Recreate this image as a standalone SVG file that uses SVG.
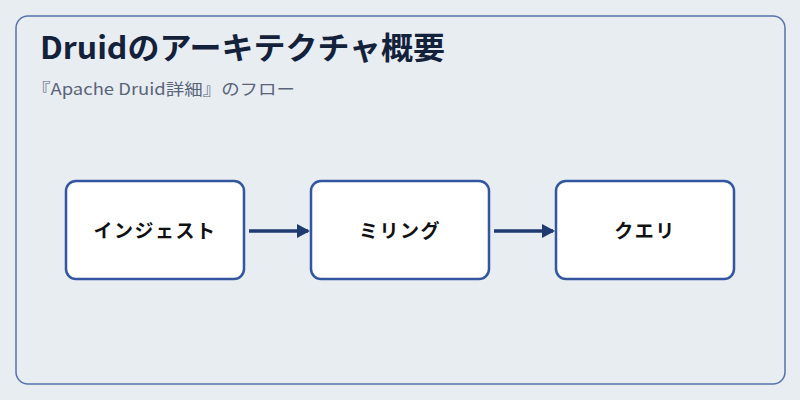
<svg xmlns="http://www.w3.org/2000/svg" width="800" height="400" viewBox="0 0 800 400">
<defs>
<style>
.n{fill:#fff;stroke:#3356a0;stroke-width:2.5}
.t{font-family:"Noto Sans CJK JP","Noto Sans",sans-serif;font-weight:bold;font-size:19px;fill:#111;text-anchor:middle;letter-spacing:1.5px}
.c{stroke:#1f3a70;stroke-width:3.5;fill:none}
</style>
<marker id="a" markerWidth="13" markerHeight="14" refX="11" refY="7" orient="auto" markerUnits="userSpaceOnUse"><path d="M0,0L13,7L0,14z" fill="#1f3a70"/></marker>
</defs>
<rect width="800" height="400" fill="#e8edf2"/>
<rect x="16" y="16" width="769" height="368" rx="12" fill="none" stroke="#5572aa" stroke-width="1.5"/>
<text x="40" y="59" font-family="'Noto Sans CJK JP','Noto Sans',sans-serif" font-weight="bold" font-size="31" fill="#14213a" textLength="405" lengthAdjust="spacingAndGlyphs">Druidのアーキテクチャ概要</text>
<text x="32" y="95" font-family="'Noto Sans CJK JP','Noto Sans',sans-serif" font-size="16" fill="#5a6478" textLength="263" lengthAdjust="spacingAndGlyphs">『Apache Druid詳細』のフロー</text>
<g id="connectors">
<line class="c" x1="249" y1="231" x2="308" y2="231" marker-end="url(#a)"/>
<line class="c" x1="494" y1="231" x2="553" y2="231" marker-end="url(#a)"/>
</g>
<g id="n1"><rect class="n" x="66" y="181" width="178" height="98" rx="10"/><text class="t" x="155" y="238">インジェスト</text></g>
<g id="n2"><rect class="n" x="311" y="181" width="178" height="98" rx="10"/><text class="t" x="400" y="238">ミリング</text></g>
<g id="n3"><rect class="n" x="556" y="181" width="178" height="98" rx="10"/><text class="t" x="645" y="238">クエリ</text></g>
</svg>
